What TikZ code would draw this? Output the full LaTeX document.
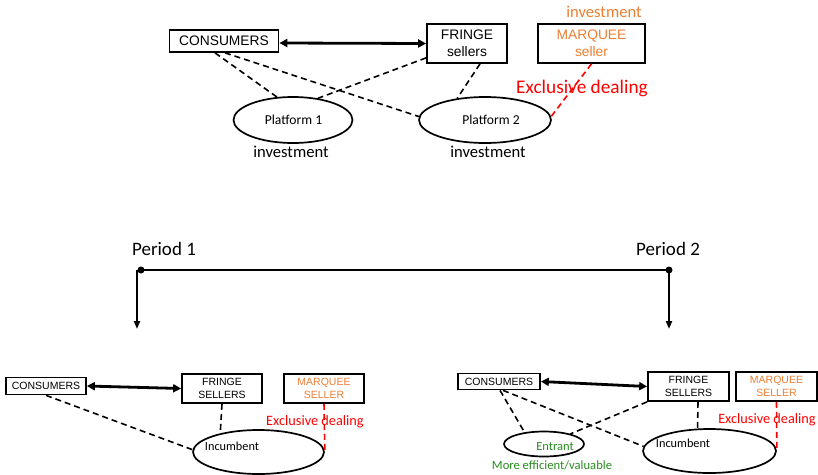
\documentclass[tikz,border=0pt]{standalone}
\usepackage{fontspec}
\setmainfont{Carlito}
\newfontfamily\arialfont{Liberation Sans}
\usetikzlibrary{arrows.meta,shapes.geometric}
\definecolor{mqorange}{RGB}{237,125,49}
\definecolor{entgreen}{RGB}{40,140,30}
\tikzset{
  boxnode/.style={draw, line width=1.7pt, inner sep=0pt, align=center},
  topbox/.style={boxnode, font=\arialfont\fontsize{13.8}{17}\selectfont},
  lowbox/.style={boxnode, font=\arialfont\fontsize{10.5}{13}\selectfont},
  platnode/.style={draw, ellipse, line width=1.7pt, inner sep=0pt},
  tie/.style={line width=1.6pt, dash pattern=on 6pt off 4pt},
  exclusive/.style={tie, red},
  link/.style={{Triangle[length=8pt,width=8pt]}-{Triangle[length=8pt,width=8pt]}, line width=2.8pt},
  drop/.style={-{Triangle[length=8pt,width=6pt]}, line width=2.3pt}
}
\begin{document}
\begin{tikzpicture}[x=1pt, y=-1pt]
    \useasboundingbox (0,0) rectangle (818,474);
    % upper diagram
    \node[topbox, minimum width=109pt, minimum height=22pt] (cons1) at (224,41) {CONSUMERS};
    \node[topbox, minimum width=80pt, minimum height=39pt] (fringe1) at (467,43.5) {FRINGE\\sellers};
    \node[topbox, minimum width=107pt, minimum height=39pt, text=mqorange] (marq1) at (591.5,43.5) {MARQUEE\\seller};
    \node[text=mqorange, font=\fontsize{16.6}{18}\selectfont] (inv3) at (604,12) {investment};
    \node[platnode, minimum width=119pt, minimum height=46pt] (p1) at (293,120) {};
    \node[platnode, minimum width=132pt, minimum height=46pt] (p2) at (485,120) {};
    \node[font=\fontsize{13.6}{15}\selectfont] (p1txt) at (293.5,120) {Platform 1};
    \node[font=\fontsize{13.6}{15}\selectfont] (p2txt) at (491,120) {Platform 2};
    \node[font=\fontsize{16.6}{18}\selectfont] (inv1) at (291,152) {investment};
    \node[font=\fontsize{16.6}{18}\selectfont] (inv2) at (488,152) {investment};
    \node[text=red, font=\fontsize{19.3}{21}\selectfont] (excl1) at (582,88) {Exclusive dealing};
    \draw[link] ([yshift=-2pt]cons1.east) -- (fringe1.west);
    \draw[tie] ([xshift=-9pt]cons1.south) -- (p1.125);
    \draw[tie] ([xshift=1pt]cons1.south) -- (p2.177);
    \draw[tie] ([yshift=6pt]fringe1.south west) -- (p1.41);
    \draw[tie] ([xshift=13pt]fringe1.south) -- (p2.142);
    \draw[exclusive] (marq1.south) -- (p2.3);
    % time line
    \node[font=\fontsize{19}{21}\selectfont] (per1) at (164,249) {Period 1};
    \node[font=\fontsize{19}{21}\selectfont] (per2) at (668,249) {Period 2};
    \node[circle, fill, inner sep=0pt, minimum size=7pt] (t1) at (141,270) {};
    \node[circle, fill, inner sep=0pt, minimum size=7pt] (t2) at (669,270) {};
    \coordinate (d1) at (137,329);
    \coordinate (d2) at (669,329);
    \draw[line width=2.3pt] (t1.center) -- (t2.center);
    \draw[drop] (t1.center -| d1) -- (d1);
    \draw[drop] (t2.center) -- (d2);
    % period 1
    \node[lowbox, minimum width=80pt, minimum height=17pt] (cons2) at (46,386) {CONSUMERS};
    \node[lowbox, minimum width=80pt, minimum height=29pt] (fringe2) at (222,388.5) {FRINGE\\SELLERS};
    \node[lowbox, minimum width=80pt, minimum height=29pt, text=mqorange] (marq2) at (324,388.5) {MARQUEE\\SELLER};
    \node[platnode, minimum width=131pt, minimum height=44pt] (inc2) at (258.5,452) {};
    \node[font=\fontsize{12.3}{14}\selectfont] (inc2txt) at (232,446) {Incumbent};
    \node[text=red, font=\fontsize{14.3}{16}\selectfont] (excl2) at (315,422) {Exclusive dealing};
    \draw[link] (cons2.east) -- (fringe2.west);
    \draw[tie] (cons2.south) -- (inc2.178);
    \draw[tie] (fringe2.south) -- (inc2.154);
    \draw[exclusive] (marq2.south) -- (inc2.east);
    % period 2
    \node[lowbox, minimum width=82pt, minimum height=16pt] (cons3) at (499,381.5) {CONSUMERS};
    \node[lowbox, minimum width=81pt, minimum height=29pt] (fringe3) at (688.5,386.5) {FRINGE\\SELLERS};
    \node[lowbox, minimum width=81pt, minimum height=29pt, text=mqorange] (marq3) at (776.5,386.5) {MARQUEE\\SELLER};
    \node[platnode, minimum width=80pt, minimum height=25pt] (ent3) at (544,444) {};
    \node[platnode, minimum width=133pt, minimum height=44pt] (inc3) at (709.5,451) {};
    \node[text=entgreen, font=\fontsize{12.5}{14}\selectfont] (ent3txt) at (555,447) {Entrant};
    \node[text=entgreen, font=\fontsize{12.6}{14}\selectfont] (eff3) at (552,465) {More efficient/valuable};
    \node[font=\fontsize{12.3}{14}\selectfont] (inc3txt) at (683,443) {Incumbent};
    \node[text=red, font=\fontsize{14.3}{16}\selectfont] (excl3) at (767,420) {Exclusive dealing};
    \draw[link] (cons3.east) -- (fringe3.west);
    \draw[tie] ([xshift=1pt]cons3.south) -- (ent3.149);
    \draw[tie] ([xshift=4pt]cons3.south) -- (inc3.176);
    \draw[tie] (fringe3.south west) -- (ent3.21);
    \draw[tie] ([xshift=9.5pt]fringe3.south) -- (inc3.118);
    \draw[exclusive] (marq3.south) -- (inc3.east);
\end{tikzpicture}
\end{document}
